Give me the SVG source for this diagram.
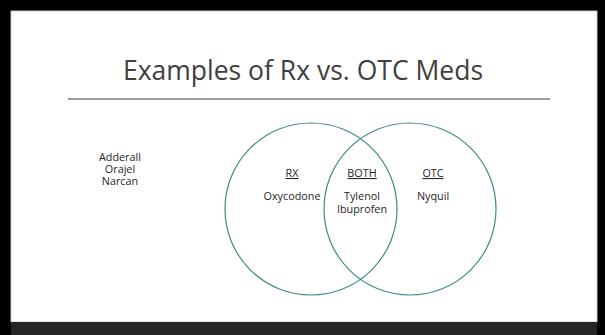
<svg xmlns="http://www.w3.org/2000/svg" width="605" height="335" viewBox="0 0 605 335">
<style>
.t{font-family:"Open Sans","Noto Sans","Liberation Sans",sans-serif;fill:#262626;text-anchor:middle;font-size:10.8px}
.u{text-decoration:underline}
.c{fill:none;stroke:#3f8a8a;stroke-width:1.2}
</style>
<rect x="0" y="0" width="605" height="335" fill="#000000"/>
<rect x="11" y="11" width="586" height="311" fill="#ffffff" stroke="#c8c8c8" stroke-width="1"/>
<rect x="11" y="322" width="586" height="13" fill="#262626"/>
<g id="title">
<text x="303" y="80" font-family="'Open Sans','Noto Sans','Liberation Sans',sans-serif" font-size="26.5" fill="#404040" text-anchor="middle">Examples of Rx vs. OTC Meds</text>
<line x1="68" y1="99" x2="550" y2="99" stroke="#7f7f7f" stroke-width="1.5"/>
</g>
<g id="list">
<text class="t" x="120" y="161">Adderall</text>
<text class="t" x="120" y="173">Orajel</text>
<text class="t" x="120" y="185">Narcan</text>
</g>
<g id="rx-circle">
<circle class="c" cx="311" cy="209" r="86"/>
<text class="t u" x="292" y="177">RX</text>
<text class="t" x="292" y="200">Oxycodone</text>
</g>
<g id="otc-circle">
<circle class="c" cx="410" cy="209" r="86"/>
<text class="t u" x="433" y="177">OTC</text>
<text class="t" x="433" y="200">Nyquil</text>
</g>
<g id="both">
<text class="t u" x="362" y="177">BOTH</text>
<text class="t" x="362" y="200">Tylenol</text>
<text class="t" x="362" y="213">Ibuprofen</text>
</g>
<g id="connectors"/>
</svg>
